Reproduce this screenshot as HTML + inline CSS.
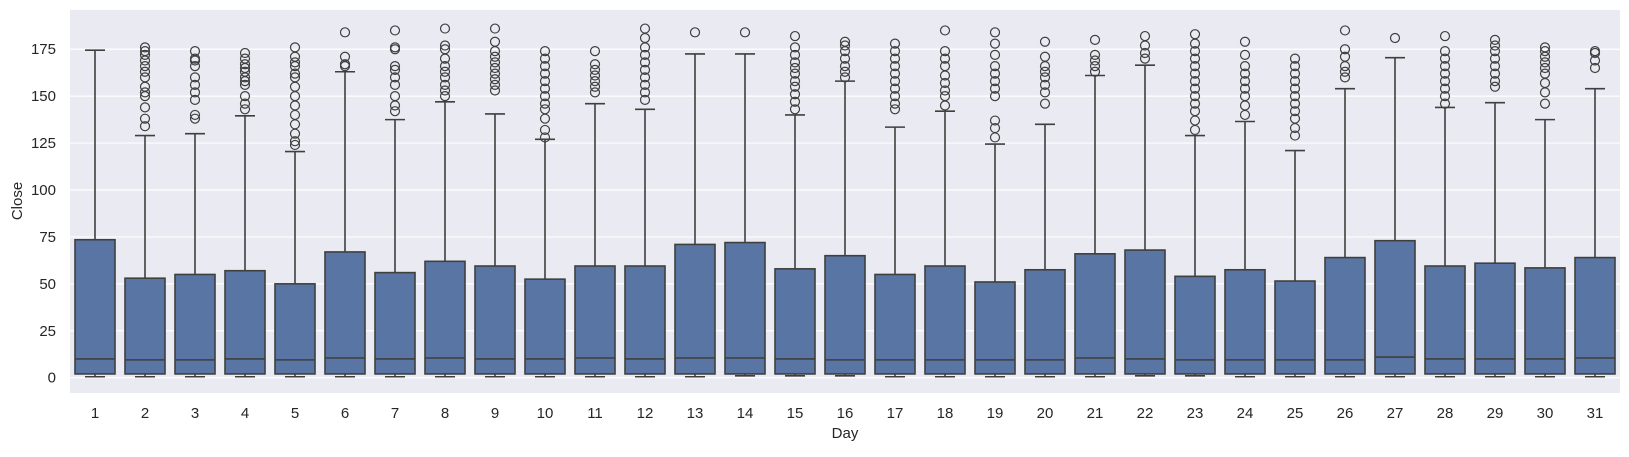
<!DOCTYPE html>
<html><head><meta charset="utf-8"><style>
body{margin:0;background:#fff;}
svg text{font-family:"Liberation Sans",sans-serif;fill:#262626;}
</style></head><body>
<svg id="chart" width="1629" height="452" xmlns="http://www.w3.org/2000/svg">
<rect x="70" y="10" width="1550" height="383" fill="#eaeaf2"/>
<g id="grid"></g><g id="boxes"></g><g id="axes"></g>
<text x="845" y="438" font-size="15" text-anchor="middle">Day</text>
<text transform="translate(22,201) rotate(-90)" font-size="15" text-anchor="middle">Close</text>
</svg>
<script>
const days=[1,2,3,4,5,6,7,8,9,10,11,12,13,14,15,16,17,18,19,20,21,22,23,24,25,26,27,28,29,30,31];
const q1=[2,2,2,2,2,2,2,2,2,2,2,2,2,2,2,2,2,2,2,2,2,2,2,2,2,2,2,2,2,2,2];
const medians=[10,9.5,9.5,10,9.5,10.5,10,10.5,10,10,10.5,10,10.5,10.5,10,9.5,9.5,9.5,9.5,9.5,10.5,10,9.5,9.5,9.5,9.5,11,10,10,10,10.5];
const q3=[73.5,53,55,57,50,67,56,62,59.5,52.5,59.5,59.5,71,72,58,65,55,59.5,51,57.5,66,68,54,57.5,51.5,64,73,59.5,61,58.5,64];
const whiskLo=[0.5,0.5,0.5,0.5,0.5,0.5,0.5,0.5,0.5,0.5,0.5,0.5,0.5,1,1,1,0.5,0.5,0.5,0.5,0.5,1,1,0.5,0.5,0.5,0.5,0.5,0.5,0.5,0.5];
const whiskHi=[174.5,129,130,139.5,120.5,163,137.5,147,140.5,127,146,143,172.5,172.5,140,158,133.5,142,124.5,135,161,166.5,129,136.5,121,154,170.5,144,146.5,137.5,154];
const outliers=[
[],
[134,138,144,150,152,155,160,163,166,169,172,174,176],
[138,140,148,152,156,160,166,169,170,174],
[143,146,150,156,158,160,163,165,167,170,173],
[124,126,130,135,140,145,150,155,160,162,166,168,171,176],
[166,167,171,184],
[142,145,150,156,160,164,166,175,176,185],
[150,153,156,160,163,166,170,175,177,186],
[153,156,159,162,165,168,171,174,179,186],
[128,132,138,143,146,150,154,158,162,166,170,174],
[152,155,158,161,164,167,174],
[148,152,156,160,164,168,172,176,181,186],
[184],
[184],
[143,147,151,155,158,162,165,168,172,176,182],
[160,163,166,170,174,177,179],
[143,146,150,154,158,162,166,170,174,178],
[145,150,153,157,161,166,170,174,185],
[128,133,137,150,154,158,162,166,172,178,184],
[146,152,156,160,163,166,171,179],
[163,166,169,172,180],
[170,173,177,182],
[132,137,142,146,150,154,158,162,166,170,174,178,183],
[140,145,150,154,158,162,166,172,179],
[129,133,138,142,146,150,154,158,162,166,170],
[160,163,166,171,175,185],
[181],
[146,150,154,158,162,166,170,174,182],
[155,158,162,166,170,174,177,180],
[146,152,157,162,165,168,171,174,176],
[165,169,173,174]
];
const yTicks=[0,25,50,75,100,125,150,175];
const NS="http://www.w3.org/2000/svg";
function y(v){return 377.7-v*1.877;}
function x(i){return 95+i*50;}
function mk(g,t,a){const e=document.createElementNS(NS,t);for(const k in a)e.setAttribute(k,a[k]);document.getElementById(g).appendChild(e);return e;}
yTicks.forEach(t=>{
 const l=mk('grid','line',{x1:70,x2:1620,y1:y(t),y2:y(t),stroke:'#fff','stroke-width':1.2});
 
 
 const tx=mk('axes','text',{x:56,y:y(t)+5,'font-size':15,'text-anchor':'end'});
 tx.textContent=t;
 
 
});
const C='#3f3f3f';
days.forEach((d,i)=>{
 const cx=x(i);
 const g=mk('boxes','g',{});
 
 
 const add=(t,a)=>{const e=document.createElementNS(NS,t);for(const k in a)e.setAttribute(k,a[k]);g.appendChild(e);return e;};
 add('line',{x1:cx,x2:cx,y1:y(q3[i]),y2:y(whiskHi[i]),stroke:C,'stroke-width':1.6});
 add('line',{x1:cx,x2:cx,y1:y(q1[i]),y2:y(whiskLo[i]),stroke:C,'stroke-width':1.6});
 add('line',{x1:cx-10,x2:cx+10,y1:y(whiskHi[i]),y2:y(whiskHi[i]),stroke:C,'stroke-width':1.6});
 add('line',{x1:cx-10,x2:cx+10,y1:y(whiskLo[i]),y2:y(whiskLo[i]),stroke:C,'stroke-width':1.6});
 add('rect',{x:cx-20,y:y(q3[i]),width:40,height:y(q1[i])-y(q3[i]),fill:'#5975a4',stroke:C,'stroke-width':1.6});
 add('line',{x1:cx-20,x2:cx+20,y1:y(medians[i]),y2:y(medians[i]),stroke:C,'stroke-width':1.6});
 outliers[i].forEach(v=>add('circle',{cx:cx,cy:y(v),r:4.5,fill:'none',stroke:C,'stroke-width':1.2}));
 const tx=mk('axes','text',{x:cx,y:418,'font-size':15,'text-anchor':'middle'});
 tx.textContent=d;
 
 
});
</script>
</body></html>
